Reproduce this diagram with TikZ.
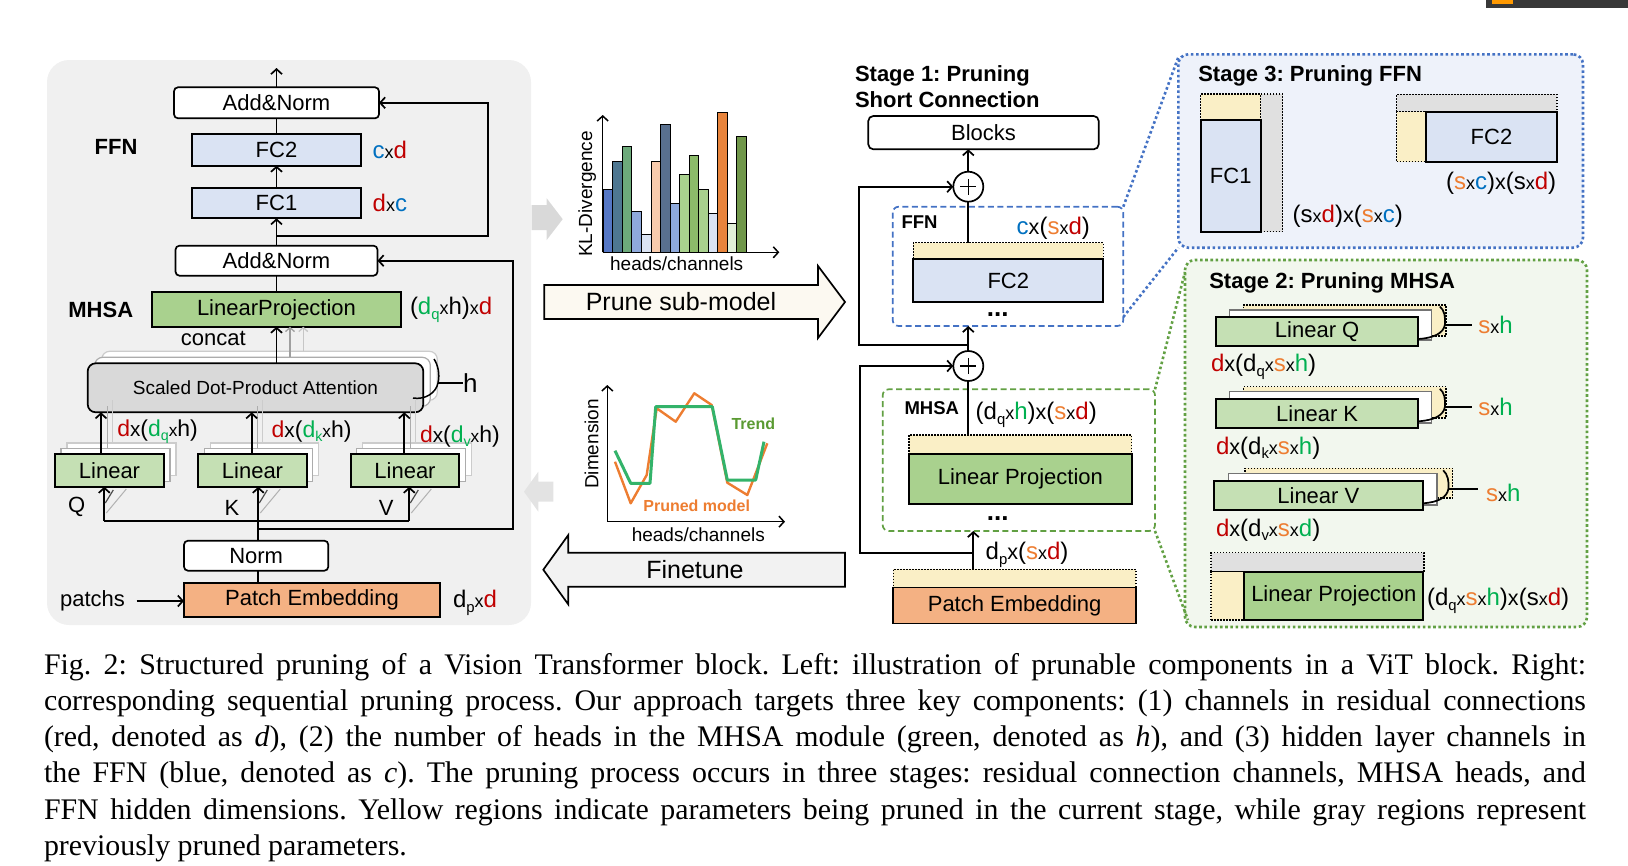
\documentclass[tikz,border=0pt]{standalone}
\usepackage{fontspec}
\setmainfont{Liberation Sans}
\newfontfamily\capfont{Liberation Serif}
\usepackage{graphicx}
\usetikzlibrary{arrows.meta}
\definecolor{lblue}{HTML}{DAE3F3}
\definecolor{lgreen}{HTML}{C5E0B4}
\definecolor{mgreen}{HTML}{A9D18E}
\definecolor{peach}{HTML}{F4B183}
\definecolor{attgray}{HTML}{D9D9D9}
\definecolor{panelgray}{HTML}{F0F0F0}
\definecolor{yel}{HTML}{FAEFC6}
\definecolor{pgray}{HTML}{E0E0E0}
\definecolor{cred}{HTML}{C00000}
\definecolor{cblue}{HTML}{0070C0}
\definecolor{cgreen}{HTML}{00B050}
\definecolor{corange}{HTML}{ED7D31}
\definecolor{bluedash}{HTML}{4472C4}
\definecolor{greendash}{HTML}{62A043}
\definecolor{stthree}{HTML}{EEF2FA}
\definecolor{sttwo}{HTML}{F2F7EE}
\definecolor{trendtxt}{HTML}{5A9A32}
\definecolor{trendln}{HTML}{33B36A}
\definecolor{prunefill}{HTML}{FCF9F1}
\definecolor{finefill}{HTML}{F2F2F2}
\definecolor{bA}{HTML}{5577C5}
\definecolor{bB}{HTML}{4E7791}
\definecolor{bC}{HTML}{6DAA7B}
\definecolor{bD}{HTML}{8EA9DB}
\definecolor{bE}{HTML}{DAE3F3}
\definecolor{bF}{HTML}{F8CBAD}
\definecolor{bG}{HTML}{59708F}
\definecolor{bI}{HTML}{A9D18E}
\definecolor{bJ}{HTML}{8CBB6A}
\definecolor{bM}{HTML}{E8843C}
\definecolor{bN}{HTML}{E2F0D9}
\definecolor{bO}{HTML}{70974A}
\newcommand\cR[1]{\textcolor{cred}{#1}}
\newcommand\cB[1]{\textcolor{cblue}{#1}}
\newcommand\cG[1]{\textcolor{cgreen}{#1}}
\newcommand\cO[1]{\textcolor{corange}{#1}}
\newcommand\xs{\scalebox{0.75}{x}}
\newcommand\xm{\scalebox{0.9}{x}}
\newcommand\sbs[1]{\raisebox{-0.35ex}{\scalebox{0.62}{#1}}}
\newcommand\bnode[7]{%
 \pgfmathsetmacro\qW{#5-#3}\pgfmathsetmacro\qH{#6-#4}%
 \pgfmathsetmacro\qX{(#3+#5)/2}\pgfmathsetmacro\qY{(#4+#6)/2}%
 \node[#1, minimum width=\qW pt, minimum height=\qH pt] (#2) at (\qX,\qY) {#7};}
\tikzset{
 every node/.style={inner sep=0pt, outer sep=0pt},
 ln/.style={line width=1.7pt},
 arr/.style={line width=1.7pt, -{Straight Barb[length=5pt,width=11pt]}},
 garr/.style={line width=1.3pt, -{Straight Barb[length=4pt,width=9pt]}},
 bx/.style={draw=black, line width=1.7pt, font=\fontsize{22}{24}\selectfont},
 rbx/.style={bx, rounded corners=4pt, fill=white},
 yreg/.style={fill=yel, draw=black, line width=1.2pt, dash pattern=on 1.5pt off 1.5pt},
 greg/.style={fill=pgray, draw=black, line width=1.2pt, dash pattern=on 1.5pt off 1.5pt},
 lbl/.style={anchor=west, font=\fontsize{24}{26}\selectfont},
 ttl/.style={anchor=base west, font=\bfseries\fontsize{22}{26}\selectfont},
 shd/.style={draw=gray!60, line width=1.2pt, fill=white},
 dotb/.style={line width=2.6pt, dash pattern=on 2.6pt off 2.6pt},
 tfont/.style={font=\fontsize{22}{24}\selectfont},
}
\begin{document}
\frenchspacing
\begin{tikzpicture}[x=1pt,y=-1pt]
\useasboundingbox (0,0) rectangle (1628,865);
% screenshot fragment top right
\fill[black!78] (1486,0) rectangle (1628,8.3);
\fill[orange!80!yellow] (1492,0) rectangle (1513,4);

%================ LEFT PANEL ================
\fill[panelgray, rounded corners=22pt] (47,60) rectangle (531,625);

\bnode{rbx}{anT}{174}{87.3}{379}{118.3}{Add\&Norm}
\bnode{bx,fill=lblue}{fcTwoL}{192}{134}{361}{165.7}{FC2}
\bnode{bx,fill=lblue}{fcOneL}{192}{187.7}{361}{218.3}{FC1}
\bnode{rbx}{anB}{175.5}{245.7}{377.5}{275.7}{Add\&Norm}
\bnode{bx,fill=mgreen}{lpL}{152}{292.3}{401}{326.7}{LinearProjection}

\node[font=\bfseries\fontsize{22}{24}\selectfont] (ffnL) at (116,146.7) {FFN};
\node[font=\bfseries\fontsize{22}{24}\selectfont] (mhsaL) at (100.8,310) {MHSA};
\node[lbl] (lcxd) at (372.7,150) {\cB{c}\xs\cR{d}};
\node[lbl] (ldxc) at (372.7,203) {\cR{d}\xs\cB{c}};
\node[lbl] (llp) at (410,310) {(\cG{d\sbs{q}}\xs h)\xs\cR{d}};

% attention stack
\bnode{shd,draw=gray!40,rounded corners=8pt}{attC}{101.7}{351.3}{437.3}{400.3}{}
\bnode{shd,draw=gray!65,rounded corners=8pt}{attB}{94.7}{357.3}{430.3}{406.3}{}
\bnode{bx,fill=attgray,rounded corners=8pt,font=\fontsize{19}{21}\selectfont}{att}{87.7}{363.3}{423.3}{412.3}{Scaled Dot-Product Attention}
\draw[ln,line width=1.5pt] (413,398) .. controls (425,400) and (436,393) .. (438,383) .. controls (440,374) and (438,365) .. (434,359);
\coordinate (hb) at (438,383);
\node[font=\fontsize{26}{28}\selectfont, anchor=west] (hL) at (463,383) {h};
\draw[ln,line width=1.5pt] (hb) -- (hL.west);
\node[tfont] (concat) at (213.3,338) {concat};
\draw[arr] (att.north -| lpL.south) -- (lpL.south);
\draw[garr, gray!75] (290,357.3) -- (290,326.7);
\draw[garr, gray!45] (303.3,351.3) -- (303.3,326.7);

% linear Q K V with copies
\bnode{shd,draw=gray!40}{lQc}{67}{443}{176}{475.7}{}
\bnode{shd,draw=gray!65}{lQb}{61}{448.5}{170}{481.2}{}
\bnode{bx,fill=lgreen}{linQ}{55}{454}{164}{486.7}{Linear}
\bnode{shd,draw=gray!40}{lKc}{210.3}{443}{318.7}{475.7}{}
\bnode{shd,draw=gray!65}{lKb}{204.3}{448.5}{312.7}{481.2}{}
\bnode{bx,fill=lgreen}{linK}{198.3}{454}{306.7}{486.7}{Linear}
\bnode{shd,draw=gray!40}{lVc}{362.7}{443}{471.3}{475.7}{}
\bnode{shd,draw=gray!65}{lVb}{356.7}{448.5}{465.3}{481.2}{}
\bnode{bx,fill=lgreen}{linV}{350.7}{454}{459.3}{486.7}{Linear}

\foreach \xx in {101,251.7,404.3}{
  \draw[gray!65, line width=1pt] (\xx+6,448.5) -- (\xx+6,406.3);
  \draw[gray!40, line width=1pt] (\xx+11,443) -- (\xx+11,400.3);
}
\coordinate (qa) at (101,454);
\coordinate (ka) at (251.7,454);
\coordinate (va) at (404.3,454);
\draw[arr] (qa) -- (qa |- att.south);
\draw[arr] (ka) -- (ka |- att.south);
\draw[arr] (va) -- (va |- att.south);

\node[lbl,font=\fontsize{23}{26}\selectfont] (lq) at (117.3,431.7) {\cR{d}\xm(\cG{d\sbs{q}}\xs h)};
\node[lbl,font=\fontsize{23}{26}\selectfont] (lk) at (271.7,431.7) {\cR{d}\xm(\cG{d\sbs{k}}\xs h)};
\node[lbl,font=\fontsize{23}{26}\selectfont] (lv) at (420,436.7) {\cR{d}\xm(\cG{d\sbs{v}}\xs h)};

\node[tfont] (qL) at (76.7,506.7) {Q};
\node[tfont] (kL) at (232,508) {K};
\node[tfont] (vL) at (386.3,508) {V};

\bnode{rbx}{norm}{184}{540.7}{328.3}{570.7}{Norm}
\bnode{bx,fill=peach}{pel}{184}{583.3}{440}{617}{Patch Embedding}
\node[tfont] (patchs) at (92.5,601) {patchs};
\coordinate (pa) at (136.7,601);
\draw[arr] (pa) -- (pa -| pel.west);
\node[lbl] (ldp) at (453,603) {d\sbs{p}\xs\cR{d}};

% left connectors
\coordinate (topout) at (276.5,68);
\draw[arr] (anT.north) -- (anT.north |- topout);
\draw[ln] (anT.south) -- (fcTwoL.north);
\draw[arr] (fcOneL.north) -- (fcTwoL.south);
\draw[arr] (anB.north) -- (fcOneL.south);
\coordinate (j1) at (276.5,236);
\coordinate (r1) at (488.3,236);
\draw[arr] (j1) -- (r1) |- (anT.east);
\draw[ln] (lpL.north) -- (anB.south);
\coordinate (j2) at (258.3,529.3);
\coordinate (r2) at (512.7,529.3);
\draw[arr] (j2) -- (r2) |- (anB.east);
\coordinate (kin) at (258.3,486.7);
\draw[ln] (pel.north -| kin) -- (norm.south -| kin);
\draw[arr] (norm.north -| kin) -- (kin);
\coordinate (qin) at (104.3,486.7);
\coordinate (vin) at (409.3,486.7);
\coordinate (qb) at (104.3,521);
\coordinate (vb) at (409.3,521);
\draw[ln] (qb) -- (vb);
\draw[arr] (qb) -- (qin);
\draw[arr] (vb) -- (vin);
\foreach \xx in {104.3,258.3,409.3}{
  \draw[gray!60, line width=1pt] (\xx+2,513) -- (\xx+22,489);
  \draw[black!70, line width=1.2pt] (\xx+1,503) -- (\xx+9,490);
}

%================ MIDDLE ================
\fill[attgray] (531.7,205) -- (546.7,205) -- (546.7,198.3) -- (562.7,219.2) -- (546.7,240) -- (546.7,230) -- (531.7,230) -- cycle;
\fill[gray!22] (553.3,481.7) -- (538.3,481.7) -- (538.3,471.7) -- (524,491.7) -- (538.3,511.7) -- (538.3,501.7) -- (553.3,501.7) -- cycle;

% bar chart
\foreach \i/\t/\c in {0/189.3/bA,1/161.7/bB,2/146.7/bC,3/211.7/bD,4/234/bE,5/161.7/bF,6/124/bG,7/203.3/bD,8/174.3/bI,9/155.7/bJ,10/189.3/bI,11/213.3/bE,12/112.7/bM,13/223.3/bN,14/136/bO}{
  \draw[fill=\c, line width=1pt] ({603.4+\i*9.53},252.3) rectangle ({603.4+(\i+1)*9.53},\t);
}
\coordinate (bo) at (602.7,252.3);
\coordinate (byt) at (602.7,115);
\coordinate (bxr) at (779.3,252.3);
\draw[arr,line width=1.5pt] (bo) -- (byt);
\draw[arr,line width=1.5pt] (bo) -- (bxr);
\node[rotate=90, font=\fontsize{19}{21}\selectfont] (kl) at (587.3,194) {KL-Divergence};
\node[font=\fontsize{19}{21}\selectfont] (hcA) at (676.7,264) {heads/channels};

% prune arrow
\filldraw[fill=prunefill, ln, line join=miter] (544.3,285) -- (818,285) -- (818,266) -- (845,302) -- (818,338) -- (818,319) -- (544.3,319) -- cycle;
\node[font=\fontsize{25}{27}\selectfont] (prune) at (681,302) {Prune sub-model};

% line plot
\coordinate (lo) at (607.3,521.7);
\coordinate (lyt) at (607.3,385);
\coordinate (lxr) at (785,521.7);
\draw[corange, line width=2.4pt, line join=round] (615,461.7) -- (630.7,503.3) -- (646.7,475) -- (656.7,408.3) -- (675.7,421.7) -- (694.3,393.3) -- (711.7,405) -- (727.3,482.7) -- (747.3,495) -- (767.3,443.3);
\draw[trendln, line width=3pt, line join=round] (615,450.7) -- (630.7,483.3) -- (650,483.3) -- (655.7,406.7) -- (712.3,406.7) -- (727.3,480) -- (755.7,480) -- (764,441.7);
\draw[arr,line width=1.5pt] (lo) -- (lyt);
\draw[arr,line width=1.5pt] (lo) -- (lxr);
\node[font=\bfseries\fontsize{16}{18}\selectfont, text=trendtxt] (trend) at (753.3,423.3) {Trend};
\node[font=\bfseries\fontsize{16}{18}\selectfont, text=corange] (pm) at (696.7,505.7) {Pruned model};
\node[rotate=90, font=\fontsize{19}{21}\selectfont] (dim) at (591.7,444) {Dimension};
\node[font=\fontsize{19}{21}\selectfont] (hcB) at (698.3,535) {heads/channels};

% finetune arrow
\filldraw[fill=finefill, ln, line join=miter] (845,552.7) -- (568.3,552.7) -- (568.3,535) -- (543.3,569.7) -- (568.3,604.4) -- (568.3,586.7) -- (845,586.7) -- cycle;
\node[font=\fontsize{25}{27}\selectfont] (fine) at (695,569.7) {Finetune};

%================ STAGE 1 COLUMN ================
\node[ttl] (sOa) at (855,81.7) {Stage 1: Pruning};
\node[ttl] (sOb) at (855,107.3) {Short Connection};
\bnode{rbx,rounded corners=5pt}{blocks}{868.3}{116}{1098.7}{149.3}{Blocks}

\bnode{draw=bluedash, line width=1.7pt, dash pattern=on 6pt off 3.5pt, rounded corners=6pt}{ffnbox}{892.7}{206.7}{1123.3}{326}{}
\node[font=\bfseries\fontsize{18.5}{20}\selectfont] (ffnR) at (919.5,221.7) {FFN};
\node[lbl] (lcxsd) at (1016.7,228.3) {\cB{c}\xm(\cO{s}\xs\cR{d})};
\bnode{yreg}{yF}{913.3}{242.7}{1103.3}{259.3}{}
\bnode{bx,fill=lblue}{fcTwoR}{913.3}{259.3}{1103.3}{301.7}{FC2}
\node[font=\bfseries\fontsize{26}{28}\selectfont] (dotsA) at (997.7,315) {...};

\bnode{draw=greendash, line width=1.7pt, dash pattern=on 6pt off 3.5pt, rounded corners=6pt}{mhsabox}{882.7}{389.3}{1155}{531}{}
\node[font=\bfseries\fontsize{18.5}{20}\selectfont] (mhsaR) at (931.8,407.7) {MHSA};
\node[lbl] (llpR) at (975.7,415) {(d\sbs{q}\xs\cG{h})\xm(\cO{s}\xs\cR{d})};
\bnode{yreg}{yL}{909}{435}{1131.7}{454.3}{}
\bnode{bx,fill=mgreen}{lpR}{909}{454.3}{1131.7}{504}{Linear Projection}
\node[font=\bfseries\fontsize{26}{28}\selectfont] (dotsB) at (997.7,519) {...};
\node[lbl] (ldpR) at (985.7,555) {d\sbs{p}\xm(\cO{s}\xs\cR{d})};
\bnode{yreg}{yPE}{893.3}{569.3}{1136}{587.5}{}
\bnode{bx,fill=peach}{peR}{893.3}{587.5}{1136}{623.6}{Patch Embedding}

\node[circle, draw, line width=1.7pt, fill=white, minimum size=30pt] (pOne) at (968.3,186.7) {};
\node[circle, draw, line width=1.7pt, fill=white, minimum size=30pt] (pTwo) at (968.3,366) {};
\foreach \pp in {pOne,pTwo}{
  \draw[line width=1.5pt] ([xshift=-8pt]\pp.center) -- ([xshift=8pt]\pp.center);
  \draw[line width=1.5pt] ([yshift=-8pt]\pp.center) -- ([yshift=8pt]\pp.center);
}
\draw[arr] (pOne.north) -- (pOne.north |- blocks.south);
\draw[ln] (pOne.south) -- (pOne.south |- yF.north);
\draw[ln] (pTwo.south) -- (pTwo.south |- yL.north);
\draw[arr] (pTwo.north) -- (pTwo.north |- ffnbox.south);
\coordinate (sjA) at (968.3,345);
\coordinate (slA) at (859.3,345);
\draw[arr] (sjA) -- (slA) |- (pOne.west);
\coordinate (sjB) at (973.3,552.7);
\coordinate (slB) at (860,552.7);
\draw[arr] (sjB) -- (slB) |- (pTwo.west);
\draw[arr] (yPE.north -| sjB) -- (sjB |- mhsabox.south);

%================ STAGE 3 ================
\bnode{fill=stthree, draw=bluedash, dotb, rounded corners=10pt}{st3}{1178.3}{54.3}{1583}{247.7}{}
\node[ttl] (st3t) at (1198.3,81.7) {Stage 3: Pruning FFN};
\bnode{yreg}{yA}{1200.7}{94}{1260.7}{120}{}
\bnode{greg}{gA}{1260.7}{94}{1282.7}{231.7}{}
\bnode{bx,fill=lblue}{fcOneS}{1200.7}{120}{1260.7}{231.7}{FC1}
\node[lbl] (lA) at (1292.7,216.7) {(s\xs\cR{d})\xm(\cO{s}\xs\cB{c})};
\bnode{greg}{gB}{1396.7}{94.3}{1557}{111.7}{}
\bnode{yreg}{yB}{1396.7}{111.7}{1426}{161.7}{}
\bnode{bx,fill=lblue}{fcTwoS}{1426}{111.7}{1557}{161.7}{FC2}
\node[lbl] (lB) at (1446,183.3) {(\cO{s}\xs\cB{c})\xm(s\xs\cR{d})};

%================ STAGE 2 ================
\bnode{fill=sttwo, draw=greendash, dotb, rounded corners=10pt}{st2}{1185}{260}{1587}{627}{}
\node[ttl] (st2t) at (1209.3,288.3) {Stage 2: Pruning MHSA};

\bnode{yreg}{yQ}{1243.3}{305}{1446}{336}{}
\bnode{shd,draw=black!55}{wQ}{1229.3}{310}{1431.7}{340}{}
\bnode{bx,fill=lgreen}{linQR}{1216}{316.7}{1418.3}{345.7}{Linear Q}
\begin{scope}[shift={(1418.3,325)}]
\draw[ln] (0,14) .. controls (16,13) and (25,8) .. (26.5,0) .. controls (27.5,-8) and (26,-15) .. (21.5,-18.5);
\end{scope}
\coordinate (bQ) at (1444.8,325);
\node[lbl] (sQ) at (1478.3,325) {\cO{s}\xs\cG{h}};
\draw[ln] (bQ) -- ([xshift=-6pt]sQ.west);
\node[lbl] (lQR) at (1211,366.7) {\cR{d}\xm(d\sbs{q}\xs\cO{s}\xs\cG{h})};

\bnode{yreg}{yK}{1243.3}{386.7}{1446}{418}{}
\bnode{shd,draw=black!55}{wK}{1229.3}{391.7}{1431.7}{423}{}
\bnode{bx,fill=lgreen}{linKR}{1216}{399}{1418.3}{428.3}{Linear K}
\begin{scope}[shift={(1418.3,407.3)}]
\draw[ln] (0,14) .. controls (16,13) and (25,8) .. (26.5,0) .. controls (27.5,-8) and (26,-15) .. (21.5,-18.5);
\end{scope}
\coordinate (bK) at (1444.8,407.3);
\node[lbl] (sK) at (1478.3,407.3) {\cO{s}\xs\cG{h}};
\draw[ln] (bK) -- ([xshift=-6pt]sK.west);
\node[lbl] (lKR) at (1216,448.3) {\cR{d}\xm(d\sbs{k}\xs\cO{s}\xs\cG{h})};

\bnode{yreg}{yV}{1245}{468.3}{1452.7}{498}{}
\bnode{shd,draw=black!55}{wV}{1228.3}{473.3}{1437}{505}{}
\bnode{bx,fill=lgreen}{linVR}{1214}{480.7}{1422.7}{510}{Linear V}
\begin{scope}[shift={(1422.7,489.3)}]
\draw[ln] (0,14) .. controls (16,13) and (24,8) .. (25.6,0) .. controls (26.6,-8) and (25,-15) .. (20.5,-19);
\end{scope}
\coordinate (bV) at (1448.3,489.3);
\node[lbl] (sV) at (1486,493.3) {\cO{s}\xs\cG{h}};
\draw[ln] (bV) -- (1478.3,489.3);
\node[lbl] (lVR) at (1216,530) {\cR{d}\xm(d\sbs{v}\xs\cO{s}\xs\cG{d})};

\bnode{greg}{gC}{1211}{552.7}{1424}{571.7}{}
\bnode{yreg}{yC}{1211}{571.7}{1244.3}{620}{}
\bnode{bx,fill=mgreen}{lpS}{1244.3}{571.7}{1423.3}{620}{Linear Projection}
\node[lbl] (lC) at (1427,600.7) {(d\sbs{q}\xs\cO{s}\xs\cG{h})\xm(s\xs\cR{d})};

% zoom connectors
\draw[bluedash, dotb] (ffnbox.north east) -- ([yshift=-3pt]st3.north west);
\draw[bluedash, dotb] ([yshift=9pt]ffnbox.south east) -- (st3.south west);
\draw[greendash, dotb] (mhsabox.north east) -- ([yshift=-12pt]st2.north west);
\draw[greendash, dotb] (mhsabox.south east) -- ([xshift=3pt,yshift=7pt]st2.south west);

%================ CAPTION ================
\node[anchor=north west, text width=1542pt, align=justify, font=\capfont\fontsize{29.9}{36.2}\selectfont] (cap) at (44,649) {\strut Fig. 2: Structured pruning of a Vision Transformer block. Left: illustration of prunable components in a ViT block. Right:\linebreak
corresponding sequential pruning process. Our approach targets three key components: (1) channels in residual connections\linebreak
(red, denoted as \textit{d}), (2) the number of heads in the MHSA module (green, denoted as \textit{h}), and (3) hidden layer channels in\linebreak
the FFN (blue, denoted as \textit{c}). The pruning process occurs in three stages: residual connection channels, MHSA heads, and\linebreak
FFN hidden dimensions. Yellow regions indicate parameters being pruned in the current stage, while gray regions represent\linebreak
previously pruned parameters.};
\end{tikzpicture}
\end{document}
